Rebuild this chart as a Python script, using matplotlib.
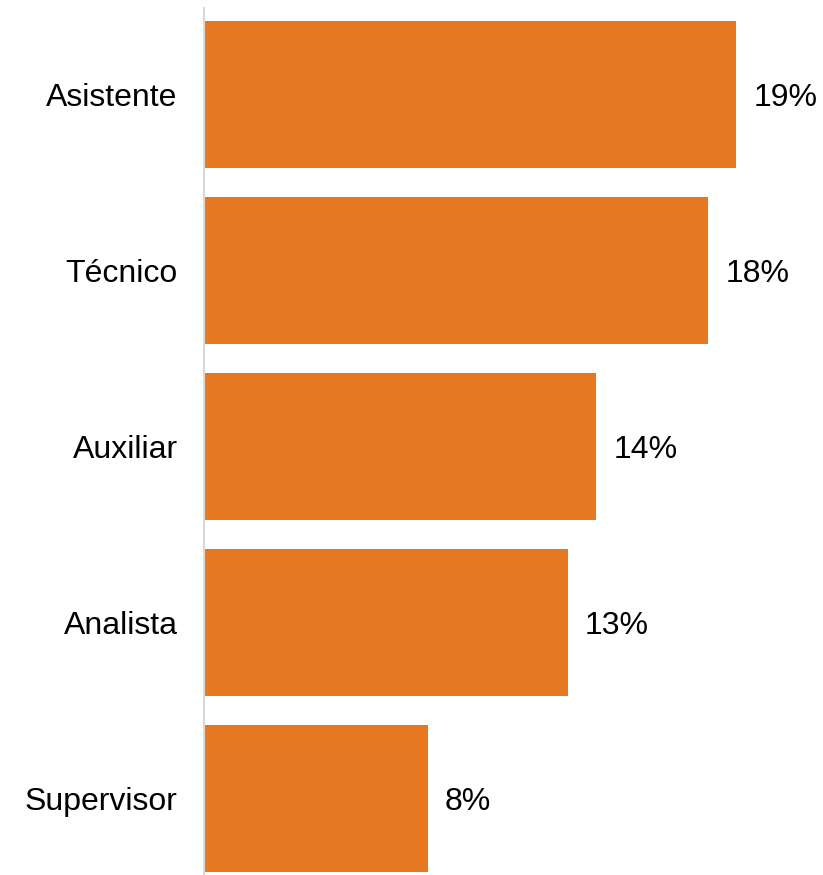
import matplotlib
matplotlib.use('Agg')
import matplotlib.pyplot as plt
import matplotlib.transforms as mtransforms

# data
categories = ['Asistente', 'Técnico', 'Auxiliar', 'Analista', 'Supervisor']
values = [19, 18, 14, 13, 8]
labels = ['19%', '18%', '14%', '13%', '8%']

plt.rcParams['font.family'] = ['Liberation Sans', 'DejaVu Sans']

fig = plt.figure(figsize=(8.23, 8.75), dpi=100)
# axes placed in figure fraction: left edge at the grey axis line
ax = fig.add_axes([204 / 823, 0, 1 - 204 / 823, 867 / 875])

pos = list(range(len(categories)))
ax.barh(pos, values, height=0.835, color='#E67822')

for p, v, t in zip(pos, values, labels):
    ax.annotate(t, (v, p), xytext=(17, -4), textcoords='offset pixels',
                va='center', ha='left', fontsize=23, color='black')

ax.set_yticks(pos)
ax.set_yticklabels(categories, fontsize=23)
# nudge the category labels down a little
shift = mtransforms.ScaledTranslation(0, -5 / 100, fig.dpi_scale_trans)
for lbl in ax.get_yticklabels():
    lbl.set_transform(lbl.get_transform() + shift)
ax.tick_params(axis='y', length=0, pad=19)
ax.set_xticks([])
ax.set_xlim(0, 22.1)
ax.set_ylim(4.435, -0.4915)

for s in ['top', 'right', 'bottom']:
    ax.spines[s].set_visible(False)
ax.spines['left'].set_color('#D9D9D9')
ax.spines['left'].set_linewidth(1.5)

fig.savefig('out.png', dpi=100)
